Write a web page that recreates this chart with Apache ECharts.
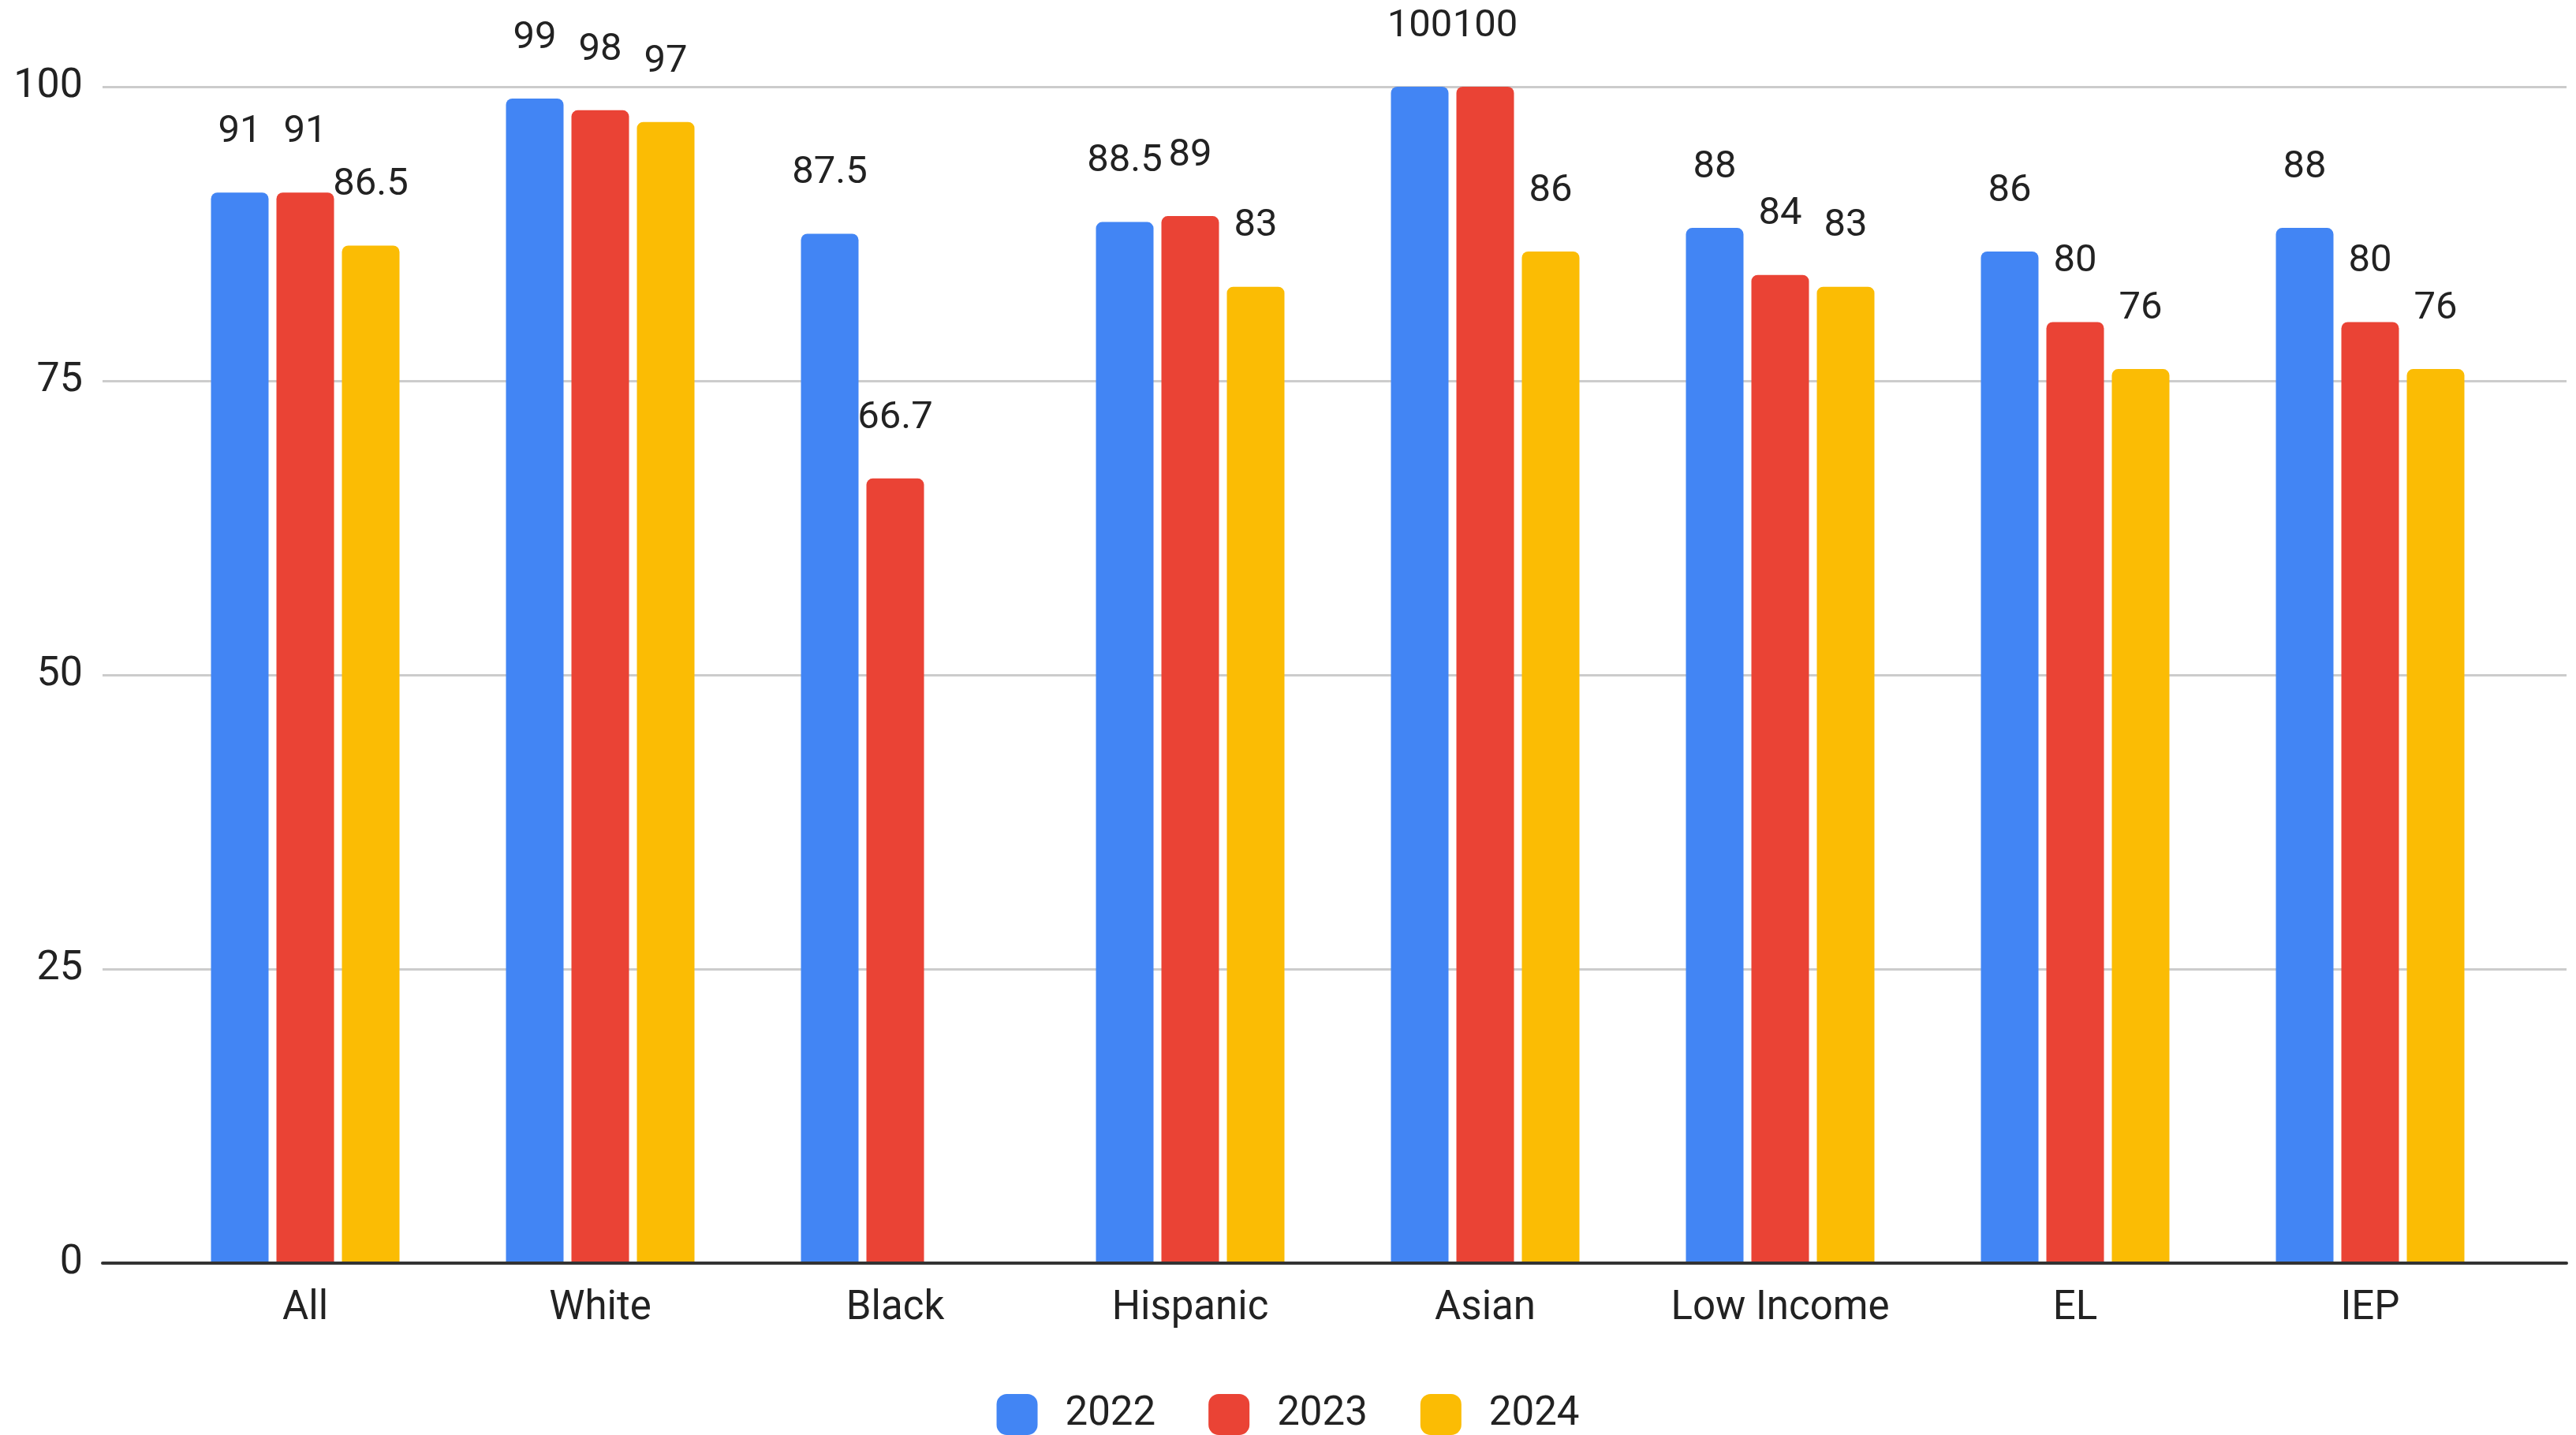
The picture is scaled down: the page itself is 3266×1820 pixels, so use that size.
<!DOCTYPE html>
<html>
<head>
<meta charset="utf-8">
<script src="https://cdn.jsdelivr.net/npm/echarts@6/dist/echarts.min.js"></script>
<style>
html,body{margin:0;padding:0;background:#fff;}
#chart{width:3266px;height:1820px;}
</style>
</head>
<body>
<div id="chart"></div>
<script>
var categories = ['All', 'White', 'Black', 'Hispanic', 'Asian', 'Low Income', 'EL', 'IEP'];
var seriesNames = ['2022', '2023', '2024'];
var values2022 = [91, 99, 87.5, 88.5, 100, 88, 86, 88];
var values2023 = [91, 98, 66.7, 89, 100, 84, 80, 80];
var values2024 = [86.5, 97, null, 83, 86, 83, 76, 76];
var yTicks = [0, 25, 50, 75, 100];
var colors = ['#4285F4', '#EA4335', '#FBBC04'];

var FONT = 'Roboto';
var chart = echarts.init(document.getElementById('chart'));

function barSeries(name, data, color) {
  return {
    name: name,
    type: 'bar',
    xAxisIndex: 1,
    yAxisIndex: 1,
    data: data,
    barWidth: 73,
    barGap: '13.7%',
    itemStyle: { color: color, borderRadius: [8, 8, 0, 0] },
    label: {
      show: true,
      position: 'top',
      distance: 52,
      color: '#222',
      fontFamily: FONT,
      fontSize: 49
    },
    emphasis: { disabled: true }
  };
}

chart.setOption({
  animation: false,
  backgroundColor: '#ffffff',
  color: colors,
  legend: {
    data: seriesNames,
    left: 'center',
    top: 1763,
    itemWidth: 52,
    itemHeight: 52,
    itemGap: 67,
    icon: 'roundRect',
    textStyle: { fontFamily: FONT, fontSize: 51, color: '#222', padding: [0, 0, 0, 30] }
  },
  grid: [
    { left: 130, right: 12, top: 110, bottom: 218 },
    { left: 200, right: 74, top: 110, bottom: 218 }
  ],
  xAxis: [
    {
      gridIndex: 0, type: 'value', min: 0, max: 1, z: 10,
      axisLine: { show: true, lineStyle: { color: '#333', width: 4 } },
      axisTick: { show: false }, axisLabel: { show: false }, splitLine: { show: false }
    },
    {
      gridIndex: 1, type: 'category', data: categories,
      axisLine: { show: false }, axisTick: { show: false }, splitLine: { show: false },
      axisLabel: { color: '#222', fontFamily: FONT, fontSize: 51, margin: 33 }
    }
  ],
  yAxis: [
    {
      gridIndex: 0, type: 'value', min: 0, max: 100, interval: 25,
      axisLine: { show: false }, axisTick: { show: false },
      axisLabel: {
        color: '#222', fontFamily: FONT, fontSize: 52, margin: 25,
        formatter: function (v) { return yTicks.indexOf(v) >= 0 ? String(v) : ''; }
      },
      splitLine: { show: true, lineStyle: { color: '#cccccc', width: 3 } }
    },
    {
      gridIndex: 1, type: 'value', min: 0, max: 100, interval: 25, show: false,
      splitLine: { show: false }
    }
  ],
  series: [
    barSeries(seriesNames[0], values2022, colors[0]),
    barSeries(seriesNames[1], values2023, colors[1]),
    barSeries(seriesNames[2], values2024, colors[2])
  ]
});
</script>
</body>
</html>
